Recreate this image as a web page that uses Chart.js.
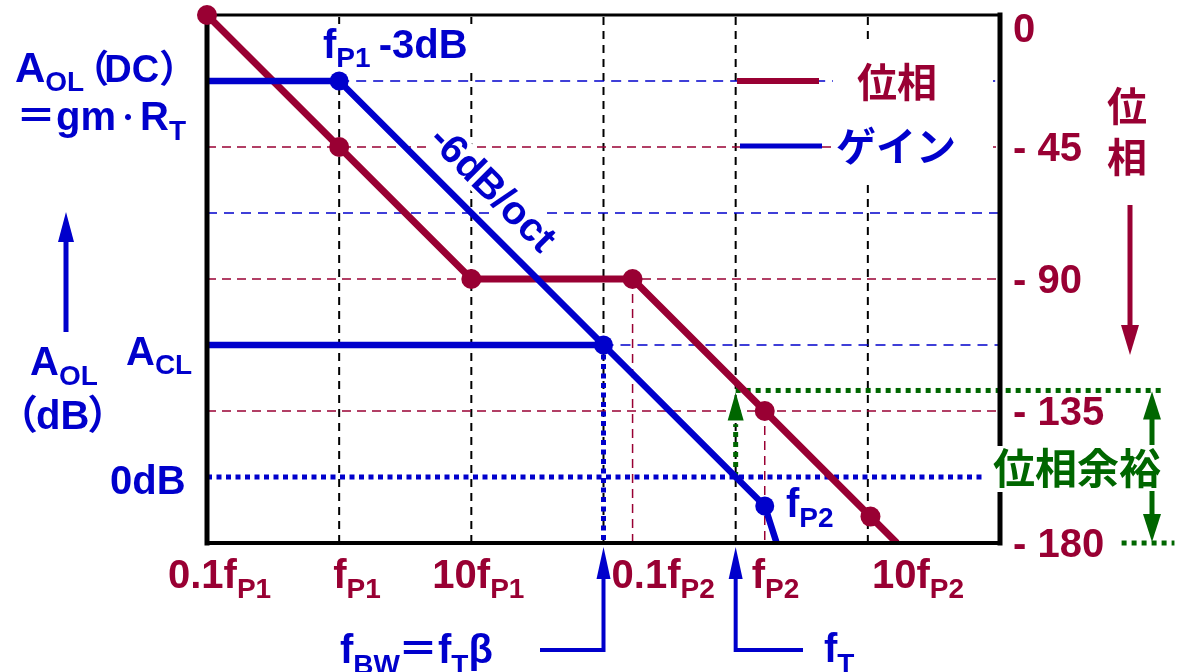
<!DOCTYPE html>
<html>
<head>
<meta charset="utf-8">
<script src="https://cdn.jsdelivr.net/npm/chart.js@4.4.1/dist/chart.umd.min.js"></script>
<style>
  html, body { margin: 0; padding: 0; background: #fff; }
  #wrap { width: 1180px; height: 672px; }
</style>
</head>
<body>
<div id="wrap"><canvas id="bode" width="1180" height="672"></canvas></div>
<script>
// eje x: decadas respecto a fP1  (log10(f / fP1))
const decadas = [0, 1, 2, 3, 4];
const tickX = [-1, 0, 1, 2.22, 3.22, 4.22];
const tickLabels = [["0.1f", "P1"], ["f", "P1"], ["10f", "P1"], ["0.1f", "P2"], ["f", "P2"], ["10f", "P2"]];
const faseTicks = [0, -45, -90, -135, -180];

// ganancia (dB)
const gananciaX = [-1, 0, 3.22, 3.31];
const gananciaDB = [60, 60, -4.4, -10];
const aclX = [-1, 2];
const aclDB = [20, 20];
const puntosGananciaX = [0, 2, 3.22];
const puntosGananciaDB = [60, 20, -4.4];

// fase (grados)
const faseX = [-1, 0, 1, 2.22, 3.22, 4.22];
const faseDeg = [0, -45, -90, -90, -135, -180];
const puntosFaseX = [-1, 0, 1, 2.22, 3.22, 4.02];
const puntosFaseDeg = [0, -45, -90, -90, -135, -171];

const margenFase = -128; // fase en fT
const fBW = 2;
const fT = 3;

const AZUL = "#0000cc";
const GRANATE = "#990033";
const VERDE = "#006600";
const FUENTE = '"Liberation Sans", Arial, sans-serif';
const FUENTE_JP = '"Noto Sans CJK JP", sans-serif';

const ctx = document.getElementById("bode");

function puntos(xs, ys) {
  return xs.map((x, i) => ({ x, y: ys[i] }));
}

function linea(data, color, ancho, dash, eje, orden, recorte) {
  const ds = {
    type: "line",
    data,
    yAxisID: eje,
    order: orden,
    borderColor: color,
    borderWidth: ancho,
    borderDash: dash,
    pointRadius: 0,
    fill: false,
    tension: 0,
  };
  if (recorte === false) ds.clip = false;
  return ds;
}

function marcas(data, color, eje, radio) {
  return {
    type: "line",
    data,
    yAxisID: eje,
    order: 1,
    showLine: false,
    pointRadius: radio,
    pointBackgroundColor: color,
    pointBorderColor: color,
    pointBorderWidth: 0,
    clip: false,
    esPunto: true,
  };
}

const datasets = [];

// rejilla vertical (negra)
decadas.forEach((d) => {
  datasets.push(linea(puntos([d, d], [-10, 70]), "#000", 2, [8, 6], "y", 20));
});
// rejilla de fase
[-45, -90, -135].forEach((f) => {
  datasets.push(linea(puntos([-1, 5], [f, f]), GRANATE, 1.5, [9, 6], "y2", 19));
});
// rejilla de ganancia
datasets.push(linea(puntos([0, 5], [60, 60]), AZUL, 1.5, [10, 7], "y", 19));
datasets.push(linea(puntos([-1, 5], [40, 40]), AZUL, 1.5, [10, 7], "y", 19));
datasets.push(linea(puntos([2, 5], [20, 20]), AZUL, 1.5, [10, 7], "y", 19));
// lineas auxiliares
datasets.push(linea(puntos([2.22, 2.22], [-90, -180]), GRANATE, 1.5, [9, 6], "y2", 18));
datasets.push(linea(puntos([3.22, 3.22], [-135, -180]), GRANATE, 1.5, [9, 6], "y2", 18));
datasets.push(linea(puntos([-1, 4.86], [0, 0]), AZUL, 5, [5, 4.5], "y", 17));
datasets.push(linea(puntos([fBW, fBW], [20, -10]), AZUL, 5, [5, 4.5], "y", 17));
datasets.push(linea(puntos([fT, fT], [0, 8]), VERDE, 5, [5, 5], "y", 16));
datasets.push(linea(puntos([fT, 6.25], [margenFase, margenFase]), VERDE, 5, [5, 5], "y2", 16, false));
datasets.push(linea(puntos([5.92, 6.32], [-180, -180]), VERDE, 5, [5, 5], "y2", 16, false));

// curvas
datasets.push(linea(puntos(faseX, faseDeg), GRANATE, 7, [], "y2", 5));
datasets.push(linea(puntos(aclX, aclDB), AZUL, 6.5, [], "y", 4));
datasets.push(linea(puntos(gananciaX, gananciaDB), AZUL, 6.5, [], "y", 4));
datasets.push(marcas(puntos(puntosFaseX, puntosFaseDeg), GRANATE, "y2", 10));
datasets.push(marcas(puntos(puntosGananciaX, puntosGananciaDB), AZUL, "y", 9.5));

function texto(g, x, y, partes, color) {
  // partes: [texto, tamaño, dy, fuente, dx, avance]
  g.fillStyle = color;
  g.textAlign = "left";
  g.textBaseline = "alphabetic";
  let cx = x;
  for (const p of partes) {
    const [t, size, dy = 0, fam = FUENTE, dx = 0, adv] = p;
    g.font = `bold ${size}px ${fam}`;
    g.fillText(t, cx + dx, y + dy);
    cx += adv !== undefined ? adv : g.measureText(t).width;
  }
  return cx;
}

function cabeza(g, x, y, dir, largo, mitad, color) {
  // dir: 1 hacia abajo, -1 hacia arriba (punta en x,y)
  g.fillStyle = color;
  g.beginPath();
  g.moveTo(x, y);
  g.lineTo(x - mitad, y - dir * largo);
  g.lineTo(x + mitad, y - dir * largo);
  g.closePath();
  g.fill();
}

function flechaV(g, x, y1, y2, color, ancho, largo, mitad) {
  const dir = y2 > y1 ? 1 : -1;
  g.strokeStyle = color;
  g.lineWidth = ancho;
  g.setLineDash([]);
  g.beginPath();
  g.moveTo(x, y1);
  g.lineTo(x, y2 - dir * (largo - 2));
  g.stroke();
  cabeza(g, x, y2, dir, largo, mitad, color);
}

function marco(chart) {
  const a = chart.chartArea;
  const g = chart.ctx;
  g.save();
  g.strokeStyle = "#000";
  g.setLineDash([]);
  g.lineCap = "square";
  g.lineWidth = 3;
  g.beginPath(); g.moveTo(a.left, a.top); g.lineTo(a.right, a.top); g.stroke();
  g.lineWidth = 5;
  g.beginPath(); g.moveTo(a.left, a.top); g.lineTo(a.left, a.bottom); g.stroke();
  g.lineWidth = 4;
  g.beginPath(); g.moveTo(a.left, a.bottom); g.lineTo(a.right, a.bottom); g.stroke();
  g.lineWidth = 5;
  g.beginPath(); g.moveTo(a.right, a.top); g.lineTo(a.right, a.bottom); g.stroke();
  g.restore();
}

const dibujo = {
  id: "dibujo",
  beforeDraw(chart) {
    chart.$marco = false;
  },
  beforeDatasetDraw(chart, args) {
    if (!chart.$marco && chart.data.datasets[args.index].esPunto) {
      marco(chart);
      chart.$marco = true;
    }
  },
  afterDraw(chart) {
    const g = chart.ctx;
    const sx = chart.scales.x;
    const sy = chart.scales.y;
    const sf = chart.scales.y2;
    const a = chart.chartArea;
    g.save();

    // etiquetas del eje x
    const desp = [-39, -6, -39, -21, -13, -25];
    tickX.forEach((v, i) => {
      const [base, sub] = tickLabels[i];
      texto(g, sx.getPixelForValue(v) + desp[i], 588, [[base, 40], [sub, 28, 10]], GRANATE);
    });

    // etiquetas de fase (derecha)
    faseTicks.forEach((v) => {
      const y = Math.max(sf.getPixelForValue(v) + 14, 42);
      texto(g, 1013, y, [[v === 0 ? "0" : "- " + Math.abs(v), 40]], GRANATE);
    });
    g.font = `bold 40px ${FUENTE_JP}`;
    g.textAlign = "center";
    g.textBaseline = "middle";
    g.fillStyle = GRANATE;
    g.fillText("位", 1127, 106);
    g.fillText("相", 1127, 157);
    flechaV(g, 1130, 205, 355, GRANATE, 5, 30, 9);

    // textos de la izquierda
    texto(g, 15, 82, [["A", 42], ["OL", 28, 9], ["（", 38, 0, FUENTE_JP, -13, 20], ["DC", 38], ["）", 38, 0, FUENTE_JP, 0, 22]], AZUL);
    texto(g, 16, 130, [["＝", 40, 0, FUENTE_JP], ["gm", 40], ["・", 24, -4, FUENTE_JP], ["R", 40], ["T", 28, 10]], AZUL);
    flechaV(g, 66, 332, 212, AZUL, 5, 30, 8);
    texto(g, 30, 375, [["A", 40], ["OL", 28, 10]], AZUL);
    texto(g, 20, 429, [["（", 40, 0, FUENTE_JP, -22, 16], ["dB", 40], ["）", 40, 0, FUENTE_JP, -2, 20]], AZUL);
    texto(g, 126, 365, [["A", 40], ["CL", 28, 9]], AZUL);
    texto(g, 110, 494, [["0dB", 40]], AZUL);

    // fP1 -3dB
    g.fillStyle = "#fff";
    g.fillRect(320, 24, 155, 46);
    texto(g, 323, 58, [["f", 40], ["P1", 28, 9], [" -3dB", 40, 0, FUENTE, -3]], AZUL);

    // -6dB/oct
    g.save();
    g.translate(sx.getPixelForValue(1.05) + 15, sy.getPixelForValue(39) - 31);
    g.rotate(Math.PI / 4);
    g.font = `bold 40px ${FUENTE}`;
    const w = g.measureText("-6dB/oct").width;
    g.fillStyle = "#fff";
    g.fillRect(-w / 2 - 3, -17, w + 6, 34);
    g.fillStyle = AZUL;
    g.textAlign = "center";
    g.textBaseline = "middle";
    g.fillText("-6dB/oct", 0, 2);
    g.restore();

    // fP2
    texto(g, 786, 517, [["f", 40], ["P2", 28, 10]], AZUL);

    // leyenda
    g.fillStyle = "#fff";
    g.fillRect(833, 43, 160, 140);
    g.setLineDash([]);
    g.lineWidth = 6;
    g.strokeStyle = GRANATE;
    g.beginPath(); g.moveTo(737, 81); g.lineTo(819, 81); g.stroke();
    g.lineWidth = 5;
    g.strokeStyle = AZUL;
    g.beginPath(); g.moveTo(740, 146); g.lineTo(822, 146); g.stroke();
    g.font = `bold 40px ${FUENTE_JP}`;
    g.textAlign = "left";
    g.textBaseline = "middle";
    g.fillStyle = GRANATE;
    g.fillText("位相", 857, 82);
    g.fillStyle = AZUL;
    g.fillText("ゲイン", 836, 146);

    // flechas inferiores fBW y fT
    const xbw = sx.getPixelForValue(fBW);
    const xt = sx.getPixelForValue(fT);
    g.strokeStyle = AZUL;
    g.lineWidth = 4;
    g.beginPath(); g.moveTo(540, 650); g.lineTo(xbw, 650); g.lineTo(xbw, 600); g.stroke();
    flechaV(g, xbw, 600, a.bottom + 4, AZUL, 4, 32, 7);
    g.beginPath(); g.moveTo(803, 650); g.lineTo(xt, 650); g.lineTo(xt, 600); g.stroke();
    flechaV(g, xt, 600, a.bottom + 4, AZUL, 4, 32, 7);
    texto(g, 340, 663, [["f", 40], ["BW", 28, 11], ["＝", 40, 0, FUENTE_JP, -2, 38], ["f", 40], ["T", 28, 11], ["β", 40]], AZUL);
    texto(g, 824, 662, [["f", 40], ["T", 28, 11]], AZUL);

    // margen de fase
    const ym = sf.getPixelForValue(margenFase);
    cabeza(g, xt, ym + 2, -1, 28, 8, VERDE);
    g.fillStyle = "#fff";
    g.fillRect(990, 446, 174, 46);
    g.font = `bold 42px ${FUENTE_JP}`;
    g.fillStyle = VERDE;
    g.textAlign = "left";
    g.textBaseline = "middle";
    g.fillText("位相余裕", 993, 468);
    flechaV(g, 1152, 445, ym + 1, VERDE, 5, 28, 9);
    flechaV(g, 1152, 491, sf.getPixelForValue(-180) - 1, VERDE, 5, 28, 9);

    g.restore();
  },
};

new Chart(ctx, {
  type: "line",
  data: { datasets },
  options: {
    responsive: false,
    animation: false,
    devicePixelRatio: 1,
    events: [],
    layout: { padding: { left: 207, top: 15, right: 180, bottom: 129 } },
    plugins: { legend: { display: false }, tooltip: { enabled: false } },
    scales: {
      x: { type: "linear", min: -1, max: 5, display: false },
      y: { type: "linear", min: -10, max: 70, display: false },
      y2: { type: "linear", min: -180, max: 0, display: false },
    },
  },
  plugins: [dibujo],
});
</script>
</body>
</html>
